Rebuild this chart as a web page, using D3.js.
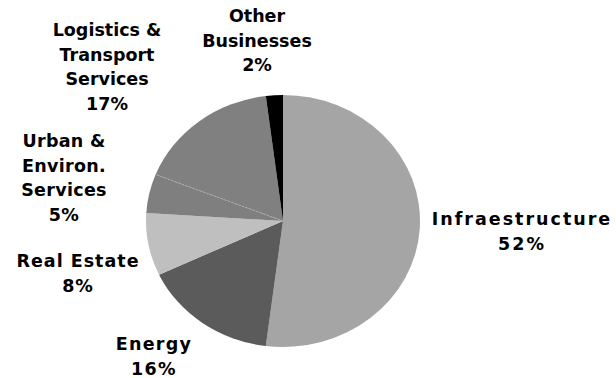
<!DOCTYPE html>
<html>
<head>
<meta charset="utf-8">
<script src="https://cdn.jsdelivr.net/npm/d3@7"></script>
<style>
  html, body { margin: 0; padding: 0; background: #fff; }
  svg { display: block; }
  text { font-family: "DejaVu Sans", Verdana, sans-serif; font-weight: bold; fill: #000; }
</style>
</head>
<body>
<svg id="chart" width="616" height="378"></svg>
<script>
// Business segments, clockwise from 12 o'clock
const segments = ["Infraestructure", "Energy", "Real Estate", "Urban & Environ. Services", "Logistics & Transport Services", "Other Businesses"];
const shares = [52, 16, 8, 5, 17, 2];
const fills = ["#a5a5a5", "#5b5b5b", "#bfbfbf", "#7f7f7f", "#808080", "#000000"];

// Label lines per segment (last line is the share)
const labelLines = [
  ["Infraestructure"],
  ["Energy"],
  ["Real Estate"],
  ["Urban &", "Environ.", "Services"],
  ["Logistics &", "Transport", "Services"],
  ["Other", "Businesses"]
];
// label anchor (centre x, first baseline y) and letter spacing
const labelPos = [
  { x: 522, y: 225, ls: 2 },
  { x: 154, y: 350, ls: 1.3 },
  { x: 78,  y: 267, ls: 1 },
  { x: 64,  y: 147, ls: 0.3 },
  { x: 107, y: 36,  ls: 0 },
  { x: 257, y: 22,  ls: 0 }
];

const svg = d3.select("#chart");
const cx = 283, cy = 221, rx = 137, ry = 126;

const pie = d3.pie().value(d => d).sort(null).startAngle(0).endAngle(2 * Math.PI);
const arcs = pie(shares);
const arc = d3.arc().innerRadius(0).outerRadius(ry);

const g = svg.append("g")
  .attr("transform", `translate(${cx},${cy}) scale(${rx / ry},1)`);

g.selectAll("path.slice")
  .data(arcs)
  .join("path")
  .attr("class", "slice")
  .attr("d", arc)
  .attr("fill", (d, i) => fills[i]);

// faint divider between the two mid-grey slices
const a = arcs[4].startAngle;
g.append("line")
  .attr("x1", 0).attr("y1", 0)
  .attr("x2", ry * Math.sin(a)).attr("y2", -ry * Math.cos(a))
  .attr("stroke", "#b0b0b0")
  .attr("stroke-width", 0.8)
  .attr("stroke-dasharray", "2,1.5");

// labels
const lineH = 24.5;
segments.forEach((name, i) => {
  const lines = labelLines[i].concat([shares[i] + "%"]);
  const p = labelPos[i];
  const t = svg.append("text")
    .attr("text-anchor", "middle")
    .attr("font-size", 17.5)
    .attr("letter-spacing", p.ls);
  lines.forEach((ln, k) => {
    t.append("tspan")
      .attr("x", p.x)
      .attr("y", p.y + k * lineH)
      .text(ln);
  });
});
</script>
</body>
</html>
